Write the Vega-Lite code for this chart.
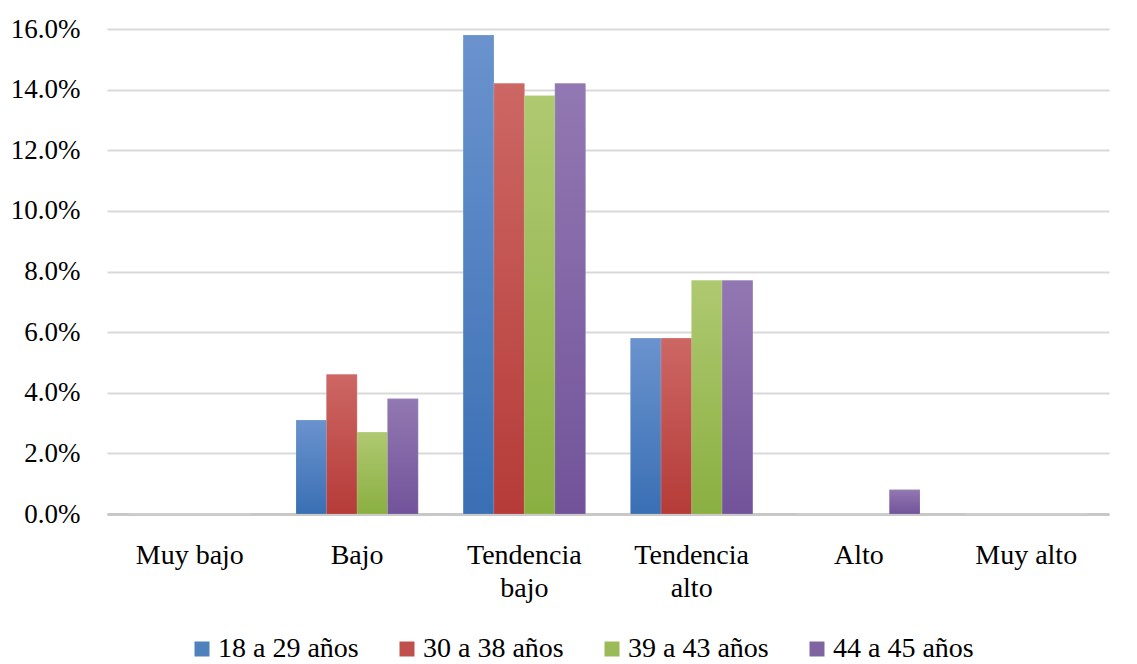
{
  "$schema": "https://vega.github.io/schema/vega-lite/v6.json",
  "width": 1002,
  "height": 485,
  "autosize": {"type": "none"},
  "padding": {"left": 107, "right": 28, "top": 29, "bottom": 150},
  "background": "white",
  "config": {
    "view": {"stroke": null},
    "font": "Liberation Serif"
  },
  "data": {
    "values": [
      {"nivel": "Muy bajo", "edad": "18 a 29 años", "valor": 0.0},
      {"nivel": "Muy bajo", "edad": "30 a 38 años", "valor": 0.0},
      {"nivel": "Muy bajo", "edad": "39 a 43 años", "valor": 0.0},
      {"nivel": "Muy bajo", "edad": "44 a 45 años", "valor": 0.0},
      {"nivel": "Bajo", "edad": "18 a 29 años", "valor": 0.031},
      {"nivel": "Bajo", "edad": "30 a 38 años", "valor": 0.046},
      {"nivel": "Bajo", "edad": "39 a 43 años", "valor": 0.027},
      {"nivel": "Bajo", "edad": "44 a 45 años", "valor": 0.038},
      {"nivel": "Tendencia bajo", "edad": "18 a 29 años", "valor": 0.158},
      {"nivel": "Tendencia bajo", "edad": "30 a 38 años", "valor": 0.142},
      {"nivel": "Tendencia bajo", "edad": "39 a 43 años", "valor": 0.138},
      {"nivel": "Tendencia bajo", "edad": "44 a 45 años", "valor": 0.142},
      {"nivel": "Tendencia alto", "edad": "18 a 29 años", "valor": 0.058},
      {"nivel": "Tendencia alto", "edad": "30 a 38 años", "valor": 0.058},
      {"nivel": "Tendencia alto", "edad": "39 a 43 años", "valor": 0.077},
      {"nivel": "Tendencia alto", "edad": "44 a 45 años", "valor": 0.077},
      {"nivel": "Alto", "edad": "18 a 29 años", "valor": 0.0},
      {"nivel": "Alto", "edad": "30 a 38 años", "valor": 0.0},
      {"nivel": "Alto", "edad": "39 a 43 años", "valor": 0.0},
      {"nivel": "Alto", "edad": "44 a 45 años", "valor": 0.008},
      {"nivel": "Muy alto", "edad": "18 a 29 años", "valor": 0.0},
      {"nivel": "Muy alto", "edad": "30 a 38 años", "valor": 0.0},
      {"nivel": "Muy alto", "edad": "39 a 43 años", "valor": 0.0},
      {"nivel": "Muy alto", "edad": "44 a 45 años", "valor": 0.0}
    ]
  },
  "encoding": {
    "x": {
      "field": "nivel",
      "type": "nominal",
      "sort": ["Muy bajo", "Bajo", "Tendencia bajo", "Tendencia alto", "Alto", "Muy alto"],
      "scale": {"paddingInner": 0.27, "paddingOuter": 0.13},
      "axis": {
        "title": null,
        "labelAngle": 0,
        "labelFont": "Liberation Serif",
        "labelFontSize": 28,
        "labelColor": "#000000",
        "domain": true,
        "domainColor": "#C8C8C8",
        "domainWidth": 3,
        "ticks": false,
        "labelPadding": 27,
        "labelLineHeight": 33,
        "labelBaseline": "top",
        "labelExpr": "indexof(datum.label,'Tendencia')==0 ? split(datum.label,' ') : datum.label"
      }
    },
    "xOffset": {
      "field": "edad",
      "type": "nominal",
      "sort": ["18 a 29 años", "30 a 38 años", "39 a 43 años", "44 a 45 años"],
      "scale": {"paddingInner": 0, "paddingOuter": 0}
    },
    "y": {
      "field": "valor",
      "type": "quantitative",
      "scale": {"domain": [0, 0.16], "nice": false},
      "axis": {
        "title": null,
        "format": ".1%",
        "values": [0, 0.02, 0.04, 0.06, 0.08, 0.1, 0.12, 0.14, 0.16],
        "labelFont": "Liberation Serif",
        "labelFontSize": 27,
        "labelColor": "#000000",
        "domain": false,
        "ticks": false,
        "labelPadding": 27,
        "gridColor": "#D9D9D9",
        "gridWidth": 2
      }
    }
  },
  "layer": [
    {
      "mark": {"type": "bar"},
      "encoding": {
        "color": {
          "field": "edad",
          "type": "nominal",
          "sort": ["18 a 29 años", "30 a 38 años", "39 a 43 años", "44 a 45 años"],
          "scale": {"range": ["#4F81BD", "#C0504D", "#9BBB59", "#8064A2"]},
          "legend": {
            "title": null,
            "orient": "none",
            "legendX": 81,
            "legendY": 606,
            "direction": "horizontal",
            "symbolType": "square",
            "symbolSize": 225,
            "symbolStrokeWidth": 0,
            "labelFont": "Liberation Serif",
            "labelFontSize": 28,
            "labelColor": "#000000",
            "columnPadding": 34,
            "labelOffset": 2
          }
        }
      }
    },
    {
      "mark": {"type": "bar", "stroke": "#ffffff", "strokeOpacity": 0.25, "strokeWidth": 0.5},
      "encoding": {
        "fill": {
          "condition": [
            {"test": "datum.edad == '18 a 29 años'", "value": {"gradient": "linear", "x1": 0, "y1": 0, "x2": 0, "y2": 1, "stops": [{"offset": 0, "color": "#6A93CE"}, {"offset": 1, "color": "#3A6FB4"}]}},
            {"test": "datum.edad == '30 a 38 años'", "value": {"gradient": "linear", "x1": 0, "y1": 0, "x2": 0, "y2": 1, "stops": [{"offset": 0, "color": "#CD6764"}, {"offset": 1, "color": "#B53B38"}]}},
            {"test": "datum.edad == '39 a 43 años'", "value": {"gradient": "linear", "x1": 0, "y1": 0, "x2": 0, "y2": 1, "stops": [{"offset": 0, "color": "#AFC971"}, {"offset": 1, "color": "#8AAF41"}]}}
          ],
          "value": {"gradient": "linear", "x1": 0, "y1": 0, "x2": 0, "y2": 1, "stops": [{"offset": 0, "color": "#9278B2"}, {"offset": 1, "color": "#72539A"}]}
        }
      }
    }
  ]
}
